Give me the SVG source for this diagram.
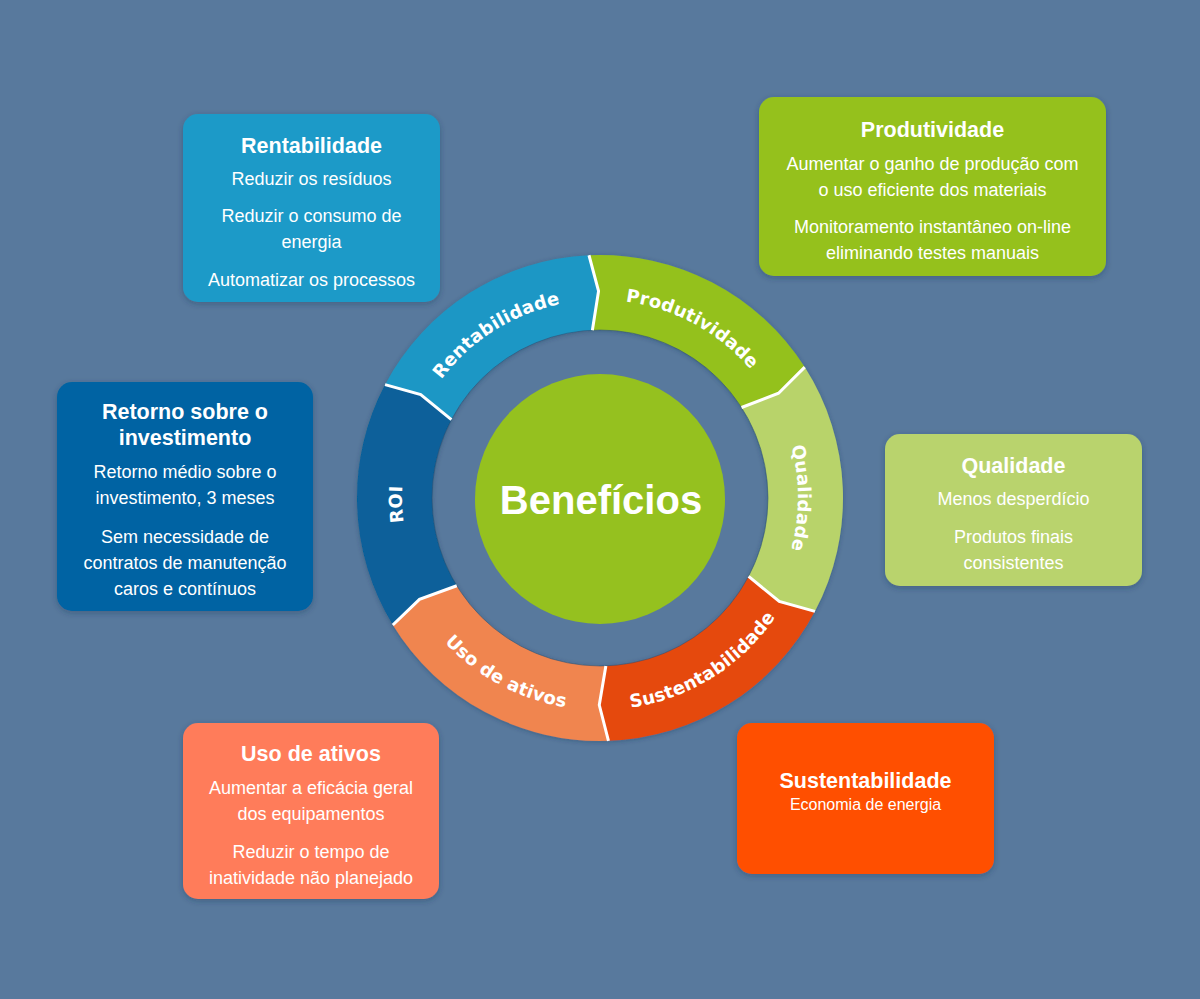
<svg xmlns="http://www.w3.org/2000/svg" width="1200" height="999" viewBox="0 0 1200 999">
  <defs>
    <filter id="shadow" x="-10%" y="-10%" width="120%" height="125%">
      <feDropShadow dx="0" dy="2" stdDeviation="3" flood-color="#1c3550" flood-opacity="0.35"/>
    </filter>
    <filter id="ringShadow" x="-10%" y="-10%" width="120%" height="120%">
      <feDropShadow dx="0" dy="1" stdDeviation="2.5" flood-color="#1c3550" flood-opacity="0.35"/>
    </filter>
    <path id="tp-rent" d="M 403.74 471.81 A 198 198 0 0 1 659.87 309.27"/>
    <path id="tp-prod" d="M 527.43 313.78 A 198 198 0 0 1 794.02 458.52"/>
    <path id="tp-qual" d="M 727.27 346.32 A 198 198 0 0 1 727.27 649.68"/>
    <path id="tp-roi" d="M 477.55 653.60 A 198 198 0 0 1 468.03 350.40"/>
    <path id="tp-sust" d="M 534.84 699.74 A 212 212 0 0 0 809.99 527.14"/>
    <path id="tp-uso" d="M 392.44 541.17 A 212 212 0 0 0 678.56 694.91"/>
  </defs>
  <style>
    .box { filter: url(#shadow); }
    .t { font-family: "Liberation Sans", Arial, sans-serif; fill: #ffffff; text-anchor: middle; }
    .title { font-size: 21.5px; font-weight: bold; }
    .body { font-size: 18px; }
    .ring { font-family: "DejaVu Sans", "Liberation Sans", sans-serif; fill: #ffffff; font-size: 18px; font-weight: bold; letter-spacing: 0.2px; text-anchor: middle; }
    .div { fill: none; stroke: #ffffff; stroke-width: 3; stroke-linejoin: miter; }
  </style>

  <rect x="0" y="0" width="1200" height="999" fill="#58799d"/>

  <!-- Ring segments -->
  <g id="ring" filter="url(#ringShadow)">
    <g id="seg-rentabilidade">
      <path fill="#1e97c5" d="M 385.05 384.67 A 243 243 0 0 1 588.98 255.25 L 598.56 291.00 L 592.38 330.17 A 168 168 0 0 0 451.39 419.65 L 420.73 394.5 Z"/>
    </g>
    <g id="seg-produtividade">
      <path fill="#94c11f" d="M 588.98 255.25 A 243 243 0 0 1 804.72 367.08 L 778.54 393.25 L 741.53 407.49 A 168 168 0 0 0 592.38 330.17 L 598.56 291.00 Z"/>
    </g>
    <g id="seg-qualidade">
      <path fill="#b8d36b" d="M 804.72 367.08 A 243 243 0 0 1 814.95 611.33 L 779.27 601.5 L 748.61 576.35 A 168 168 0 0 0 741.53 407.49 L 778.54 393.25 Z"/>
    </g>
    <g id="seg-sustentabilidade">
      <path fill="#e5480f" d="M 814.95 611.33 A 243 243 0 0 1 608.48 740.85 L 599.28 705.0 L 605.86 665.90 A 168 168 0 0 0 748.61 576.35 L 779.27 601.5 Z"/>
    </g>
    <g id="seg-uso">
      <path fill="#f08550" d="M 608.48 740.85 A 243 243 0 0 1 392.81 624.97 L 419.48 599.30 L 456.76 585.78 A 168 168 0 0 0 605.86 665.90 L 599.28 705.0 Z"/>
    </g>
    <g id="seg-roi">
      <path fill="#07619a" d="M 392.81 624.97 A 243 243 0 0 1 385.05 384.67 L 420.73 394.5 L 451.39 419.65 A 168 168 0 0 0 456.76 585.78 L 419.48 599.30 Z"/>
    </g>
  </g>
  <circle cx="600" cy="498" r="168" fill="none" stroke="#234c70" stroke-width="1" opacity="0.5"/>

  <!-- Dividers -->
  <g id="connectors">
    <polyline class="div" points="588.98,255.25 598.56,291.00 592.38,330.17"/>
    <polyline class="div" points="804.72,367.08 778.54,393.25 741.53,407.49"/>
    <polyline class="div" points="814.95,611.33 779.27,601.5 748.61,576.35"/>
    <polyline class="div" points="608.48,740.85 599.28,705.0 605.86,665.90"/>
    <polyline class="div" points="392.81,624.97 419.48,599.30 456.76,585.78"/>
    <polyline class="div" points="385.05,384.67 420.73,394.5 451.39,419.65"/>
  </g>

  <!-- Ring labels -->
  <g id="ring-labels">
    <text class="ring"><textPath href="#tp-rent" startOffset="50%">Rentabilidade</textPath></text>
    <text class="ring"><textPath href="#tp-prod" startOffset="50%">Produtividade</textPath></text>
    <text class="ring"><textPath href="#tp-qual" startOffset="50%">Qualidade</textPath></text>
    <text class="ring"><textPath href="#tp-roi" startOffset="50%">ROI</textPath></text>
    <text class="ring"><textPath href="#tp-sust" startOffset="50%">Sustentabilidade</textPath></text>
    <text class="ring"><textPath href="#tp-uso" startOffset="50%">Uso de ativos</textPath></text>
  </g>

  <!-- Center -->
  <g id="center">
    <circle cx="600" cy="499" r="125" fill="#95c11f"/>
    <text class="t" x="601" y="514" style="font-size:40px;font-weight:bold">Benefícios</text>
  </g>

  <!-- Boxes -->
  <g id="box-rentabilidade">
    <rect class="box" x="183" y="114" width="257" height="188" rx="15" fill="#1e9ac8"/>
    <text class="t title" x="311.5" y="153">Rentabilidade</text>
    <text class="t body" x="311.5" y="185">Reduzir os resíduos</text>
    <text class="t body" x="311.5" y="222">Reduzir o consumo de</text>
    <text class="t body" x="311.5" y="248">energia</text>
    <text class="t body" x="311.5" y="286">Automatizar os processos</text>
  </g>

  <g id="box-produtividade">
    <rect class="box" x="759" y="97" width="347" height="179" rx="15" fill="#95c11f"/>
    <text class="t title" x="932.5" y="137">Produtividade</text>
    <text class="t body" x="932.5" y="170">Aumentar o ganho de produção com</text>
    <text class="t body" x="932.5" y="196">o uso eficiente dos materiais</text>
    <text class="t body" x="932.5" y="233">Monitoramento instantâneo on-line</text>
    <text class="t body" x="932.5" y="259">eliminando testes manuais</text>
  </g>

  <g id="box-roi">
    <rect class="box" x="57" y="382" width="256" height="229" rx="15" fill="#0563a3"/>
    <text class="t title" x="185" y="419">Retorno sobre o</text>
    <text class="t title" x="185" y="445">investimento</text>
    <text class="t body" x="185" y="478">Retorno médio sobre o</text>
    <text class="t body" x="185" y="504">investimento, 3 meses</text>
    <text class="t body" x="185" y="543">Sem necessidade de</text>
    <text class="t body" x="185" y="569">contratos de manutenção</text>
    <text class="t body" x="185" y="595">caros e contínuos</text>
  </g>

  <g id="box-qualidade">
    <rect class="box" x="885" y="434" width="257" height="152" rx="15" fill="#b9d36d"/>
    <text class="t title" x="1013.5" y="473">Qualidade</text>
    <text class="t body" x="1013.5" y="505">Menos desperdício</text>
    <text class="t body" x="1013.5" y="543">Produtos finais</text>
    <text class="t body" x="1013.5" y="569">consistentes</text>
  </g>

  <g id="box-uso">
    <rect class="box" x="183" y="723" width="256" height="176" rx="15" fill="#ff7b5a"/>
    <text class="t title" x="311" y="761">Uso de ativos</text>
    <text class="t body" x="311" y="794">Aumentar a eficácia geral</text>
    <text class="t body" x="311" y="820">dos equipamentos</text>
    <text class="t body" x="311" y="858">Reduzir o tempo de</text>
    <text class="t body" x="311" y="884">inatividade não planejado</text>
  </g>

  <g id="box-sustentabilidade">
    <rect class="box" x="737" y="723" width="257" height="151" rx="15" fill="#ff5000"/>
    <text class="t title" x="865.5" y="788">Sustentabilidade</text>
    <text class="t" x="865.5" y="810" style="font-size:16px">Economia de energia</text>
  </g>
</svg>
